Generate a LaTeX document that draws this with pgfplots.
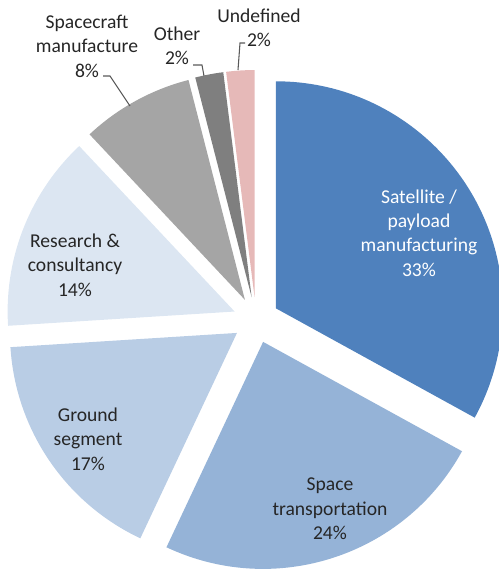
\documentclass[border=0pt]{standalone}
\usepackage{pgfplots}
\usepackage{pgfplotstable}
\pgfplotsset{compat=1.18}
\usepackage{fontspec}
\setmainfont{Carlito}

\definecolor{csat}{HTML}{4F81BD}
\definecolor{cspace}{HTML}{95B3D7}
\definecolor{cground}{HTML}{B9CDE5}
\definecolor{cresearch}{HTML}{DCE6F2}
\definecolor{ccraft}{HTML}{A5A5A5}
\definecolor{cother}{HTML}{7F7F7F}
\definecolor{cundef}{HTML}{E6B9B8}
\definecolor{ctext}{HTML}{262626}
\definecolor{cleader}{HTML}{595959}

% shares in percent, clockwise from 12 o'clock
\pgfplotstableread{
slice value color
Satellite 33 csat
Transport 24 cspace
Ground 17 cground
Research 14 cresearch
Spacecraft 8 ccraft
Other 2 cother
Undefined 2 cundef
}\piedata

\begin{document}
\begin{tikzpicture}
\begin{axis}[
    x=0.75pt, y=0.75pt,
    xmin=0, xmax=499, ymin=0, ymax=569,
    hide axis,
    clip=true,
    font=\fontsize{14.7}{18.3}\selectfont,
]
\path (axis cs:0,0) rectangle (axis cs:499,569);
\def\cx{256}\def\cy{249}\def\gap{23}\def\rad{170.25pt}
\def\cum{0}
\pgfplotsforeachungrouped \i in {0,...,6}{
    \pgfplotstablegetelem{\i}{value}\of\piedata \let\v\pgfplotsretval
    \pgfplotstablegetelem{\i}{color}\of\piedata \let\col\pgfplotsretval
    \pgfmathsetmacro\sA{90-\cum*3.6}
    \pgfmathsetmacro\sB{90-(\cum+\v)*3.6}
    \pgfmathsetmacro\bis{(\sA+\sB)/2}
    \pgfmathsetmacro\ax{\cx+\gap*cos(\bis)}
    \pgfmathsetmacro\ay{\cy+\gap*sin(\bis)}
    \edef\temp{\noexpand\fill[\col] (axis cs:\ax,\ay) -- ++(\sA:\rad)
        arc[start angle=\sA, end angle=\sB, radius=\rad] -- cycle;}
    \temp
    \pgfmathsetmacro\cum{\cum+\v}
}

% leader lines
\draw[cleader, line width=0.8pt] (axis cs:103,493) -- (axis cs:110,493) -- (axis cs:130,463);
\draw[cleader, line width=0.8pt] (axis cs:193,504) -- (axis cs:202,504) -- (axis cs:204,493);
\draw[cleader, line width=0.8pt] (axis cs:245,526) -- (axis cs:240,526) -- (axis cs:238,499);

% labels
\node[align=center, text=white] at (axis cs:419,336) {Satellite /\\payload\\manufacturing\\33\%};
\node[align=center, text=ctext] at (axis cs:330,60) {Space\\transportation\\24\%};
\node[align=center, text=ctext] at (axis cs:88,130) {Ground\\segment\\17\%};
\node[align=center, text=ctext] at (axis cs:75,304) {Research \&\\consultancy\\14\%};
\node[align=center, text=ctext] at (axis cs:87,523) {Spacecraft\\manufacture\\8\%};
\node[align=center, text=ctext] at (axis cs:177,523) {Other\\2\%};
\node[align=center, text=ctext] at (axis cs:259,541) {Undefined\\2\%};
\end{axis}
\end{tikzpicture}
\end{document}
